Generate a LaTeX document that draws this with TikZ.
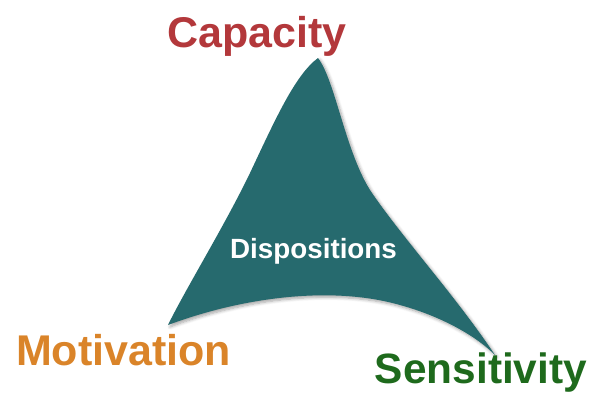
\documentclass[tikz,border=0pt]{standalone}
\usepackage{fontspec}
\setmainfont{Liberation Sans}
\usetikzlibrary{shadows.blur}
\definecolor{teal1}{HTML}{266A6E}
\definecolor{capred}{HTML}{B3383B}
\definecolor{motor}{HTML}{DA8429}
\definecolor{sengreen}{HTML}{1E6A1C}
\tikzset{
  lbl/.style={anchor=base, inner sep=0pt, font=\bfseries\fontsize{43}{50}\selectfont},
}
\begin{document}
\begin{tikzpicture}[x=1pt,y=-1pt]
\useasboundingbox (0,0) rectangle (600,408);
\coordinate (T) at (318,58);
\coordinate (BL) at (168,325);
\coordinate (BR) at (495,355);
\path[fill=teal1, blur shadow={shadow xshift=2pt, shadow yshift=-2pt, shadow blur steps=6, shadow opacity=35, shadow blur radius=3pt}]
  (T) .. controls (295,75) and (275,120) .. (250,173)
      .. controls (225,225) and (185,290) .. (BL)
      .. controls (240,298) and (330,285) .. (400,305)
      .. controls (440,316) and (475,335) .. (BR)
      .. controls (455,295) and (400,235) .. (370,190)
      .. controls (345,150) and (335,80) .. (T) -- cycle;
\node[lbl, text=capred] (cap) at (257,47) {Capacity};
\node[lbl, text=motor] (mot) at (123.5,365) {Motivation};
\node[lbl, text=sengreen, font=\bfseries\fontsize{42.4}{50}\selectfont] (sen) at (481,383) {Sensitivity};
\node[lbl, text=white, font=\bfseries\fontsize{27.8}{32}\selectfont] (disp) at (313.5,258) {Dispositions};
\end{tikzpicture}
\end{document}
